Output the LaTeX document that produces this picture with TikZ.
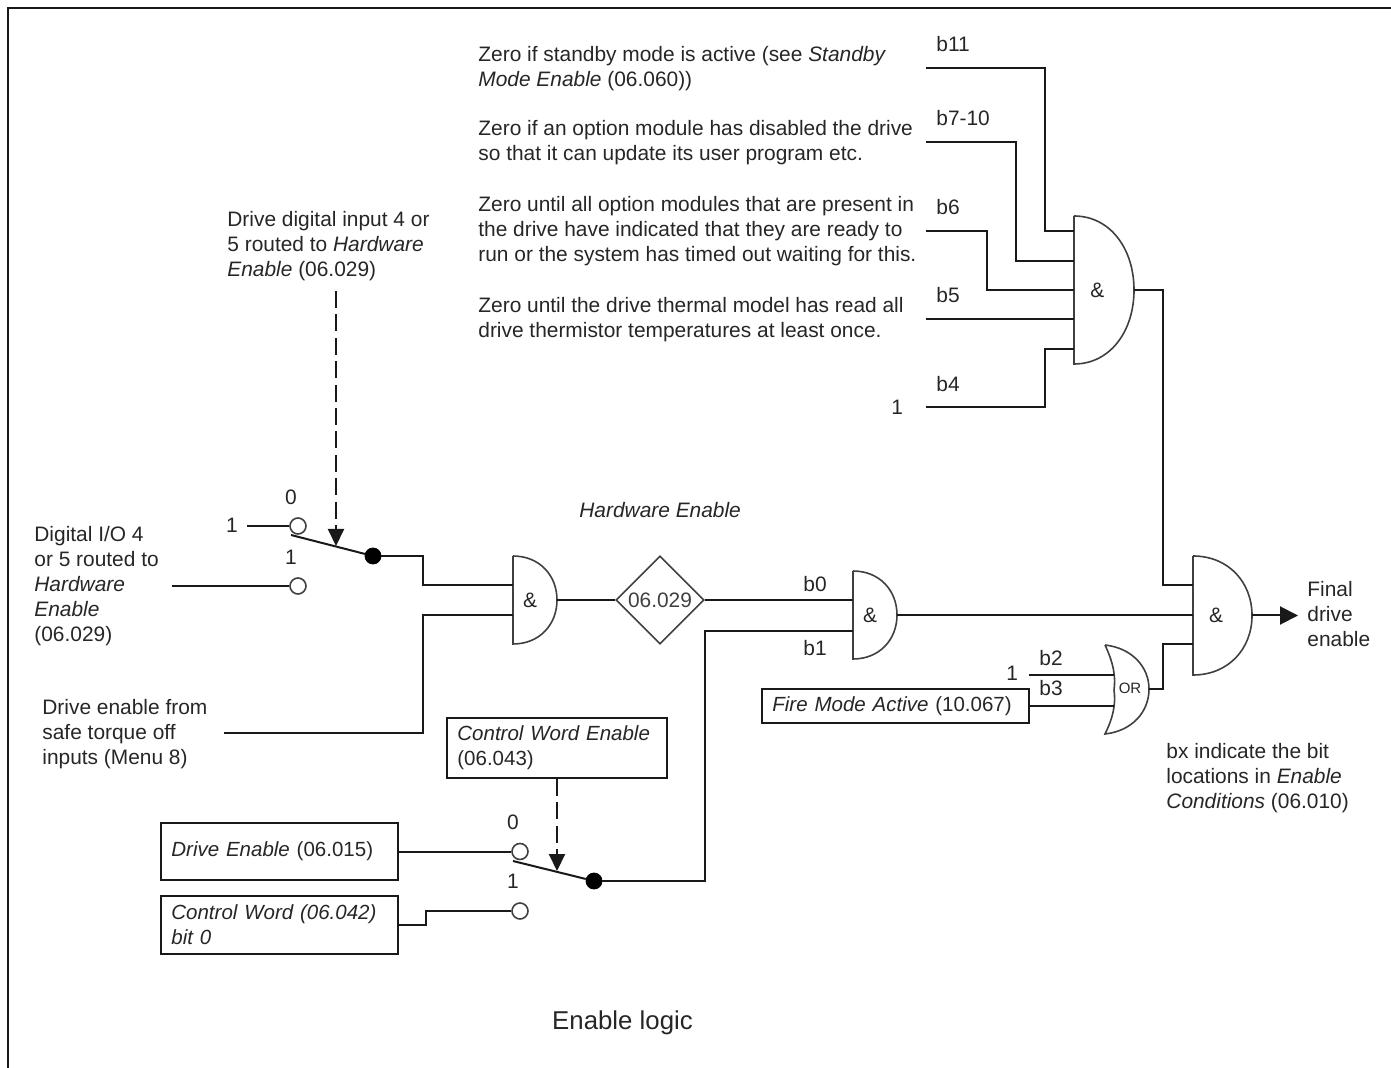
\documentclass[tikz,border=0pt]{standalone}
\usepackage{fontspec}
\setmainfont{Liberation Sans}
\usetikzlibrary{arrows.meta,shapes.geometric}
\definecolor{ink}{gray}{0.15}
\tikzset{
    every node/.style={font=\fontsize{10.45}{12.5}\selectfont, text=ink, inner sep=0pt},
    wire/.style={line width=1pt, black!90},
    outline/.style={line width=0.8pt, black!75},
    ctrl/.style={wire, dash pattern=on 8.5pt off 3.2pt, -{Triangle[length=8.5pt,width=8pt]}},
    txt/.style={anchor=west, align=left},
    infobox/.style={draw=black!90, line width=1pt, inner xsep=5.2pt, text width=#1, align=left, font=\fontsize{10.25}{12.5}\selectfont},
    pin/.style={circle, outline, draw, fill=white, minimum size=8pt},
    dot/.style={circle, draw=black, fill=black, minimum size=8pt}
}
% gate body: name, left, top, bottom, right, label
\newcommand{\andgate}[6]{
    \draw[outline] (#2,#3) -- (#2,#4) .. controls ({#2+0.6*(#5-#2)},#4) and (#5,{#3+0.78*(#4-#3)}) .. (#5,{(#3+#4)/2})
        .. controls (#5,{#3+0.22*(#4-#3)}) and ({#2+0.6*(#5-#2)},#3) .. (#2,#3);
    \coordinate (#1out) at (#5,{(#3+#4)/2});
    \node (#1) at ({#2+0.39*(#5-#2)},{(#3+#4)/2}) {#6};
}
\begin{document}
\begin{tikzpicture}[x=0.5pt, y=-0.5pt]  %enable logic
        \useasboundingbox (0,0) rectangle (1391,1068);
        \coordinate (cornerb) at (8,1068);
        \coordinate (cornera) at (8,8);
        \coordinate (cornerc) at (1391,8);
        \draw[wire] (cornerb) -- (cornera) -- (cornerc);

        % top notes
        \node[txt] (standby) at (478,69) {Zero if standby mode is active (see \textit{Standby}\\\textit{Mode Enable} (06.060))};
        \node[txt] (option) at (478,143) {Zero if an option module has disabled the drive\\so that it can update its user program etc.};
        \node[txt] (ready) at (478,231) {Zero until all option modules that are present in\\the drive have indicated that they are ready to\\run or the system has timed out waiting for this.};
        \node[txt] (thermal) at (478,320) {Zero until the drive thermal model has read all\\drive thermistor temperatures at least once.};

        \node[txt] (lb11) at (936,44) {b11};
        \node[txt] (lb7) at (936,118) {b7-10};
        \node[txt] (lb6) at (936,207) {b6};
        \node[txt] (lb5) at (936,295) {b5};
        \node[txt] (lb4) at (936,384) {b4};
        \node[txt] (lone) at (891,407) {1};

        % gates
        \andgate{gtop}{1074}{216}{364}{1134}{\&}
        \andgate{gfinal}{1193}{556}{675}{1252}{\&}
        \andgate{gmid}{853}{571}{659}{897}{\&}
        \andgate{gleft}{513}{556}{644}{557}{\&}
        \draw[outline] (1105,645) .. controls (1113,662) and (1116,676) .. (1114,690)
            .. controls (1116,704) and (1113,718) .. (1105,734)
            .. controls (1132,731) and (1149,712) .. (1149,689)
            .. controls (1149,667) and (1132,648) .. (1105,645);
        \coordinate (gorout) at (1149,689);
        \node[font=\fontsize{7.5}{9}\selectfont] (gor) at (1130,688) {OR};

        \coordinate (topa) at (1074,231);
        \coordinate (topb) at (1074,261);
        \coordinate (topc) at (1074,290);
        \coordinate (topd) at (1074,319);
        \coordinate (tope) at (1074,349);
        \coordinate (ina) at (926,68);
        \coordinate (inb) at (926,142);
        \coordinate (inc) at (926,231);
        \coordinate (ind) at (926,319);
        \coordinate (ine) at (926,407);
        \draw[wire] (ina) -- ++(119,0) |- (topa);
        \draw[wire] (inb) -- ++(90,0) |- (topb);
        \draw[wire] (inc) -- ++(61,0) |- (topc);
        \draw[wire] (ind) -- (topd);
        \draw[wire] (ine) -- ++(119,0) |- (tope);

        \coordinate (finala) at (1193,585);
        \coordinate (finalb) at (1193,615);
        \coordinate (finalc) at (1193,644);
        \coordinate (finalend) at (1298,615.5);
        \draw[wire] (gtopout) -- ++(29,0) |- (finala);
        \draw[wire] (gmidout) -- (finalb);
        \draw[wire] (gorout) -- ++(14,0) |- (finalc);
        \draw[wire, -{Triangle[length=9pt,width=9pt]}] (gfinalout) -- (finalend);
        \node[txt] (final) at (1307,614) {Final\\drive\\enable};
        \node[txt] (note) at (1166,778) {bx indicate the bit\\locations in \textit{Enable}\\\textit{Conditions} (06.010)};

        % or inputs
        \node[infobox=123.1pt, minimum height=17pt] (fire) at (895.5,706) {\textit{Fire Mode Active} (10.067)};
        \coordinate (ora) at (1114,675);
        \coordinate (orb) at (1114,706);
        \coordinate (orc) at (1029,675);
        \draw[wire] (orc) -- (ora);
        \draw[wire] (fire.east) -- (orb);
        \node[txt] (ltwo) at (1039,658) {b2};
        \node[txt] (lthree) at (1039,688) {b3};
        \node[txt] (lorone) at (1006,673) {1};

        % first switch
        \node[txt] (hwnote) at (227,246) {Drive digital input 4 or\\5 routed to \textit{Hardware}\\\textit{Enable} (06.029)};
        \node[txt] (dio) at (34,586) {Digital I/O 4\\or 5 routed to\\\textit{Hardware}\\\textit{Enable}\\(06.029)};
        \node[txt] (sto) at (42,734) {Drive enable from\\safe torque off\\inputs (Menu 8)};
        \node (swa0) at (291,497) {0};
        \node (swa1) at (291,557) {1};
        \node (swaone) at (232,525) {1};
        \node[pin] (swaa) at (298,526) {};
        \node[pin] (swab) at (298,586) {};
        \node[dot] (swac) at (373,556) {};
        \coordinate (swastart) at (247,526);
        \coordinate (swbstart) at (172,586);
        \coordinate (levera) at (291,535);
        \coordinate (hwtop) at (336,291);
        \coordinate (hwtip) at (336,546);
        \draw[wire] (swastart) -- (swaa);
        \draw[wire] (swbstart) -- (swab);
        \draw[wire] (levera) -- (swac);
        \draw[ctrl] (hwtop) -- (hwtip);

        \coordinate (lefta) at (513,585);
        \coordinate (leftb) at (513,615);
        \coordinate (stoend) at (224,733);
        \draw[wire] (swac) -- ++(50,0) |- (lefta);
        \draw[wire] (stoend) -- ++(199,0) |- (leftb);

        % parameter diamond
        \node[diamond, outline, draw, minimum width=44pt, minimum height=44pt, aspect=1] (par) at (660,600) {06.029};
        \node[txt] (hwlabel) at (579,510) {\textit{Hardware Enable}};
        \draw[wire] (gleftout) -- (par);
        \coordinate (mida) at (853,600);
        \coordinate (midb) at (853,631);
        \coordinate (midturn) at (705,631);
        \draw[wire] (par.east) -- (mida);
        \node[txt] (lzero) at (803,584) {b0};
        \node[txt] (lonemid) at (803,648) {b1};

        % second switch
        \node[infobox=99.6pt, minimum height=30pt] (cwe) at (557,748) {\textit{Control Word Enable}\\(06.043)};
        \node[infobox=108.1pt, minimum height=28.5pt] (den) at (279.5,851.5) {\textit{Drive Enable} (06.015)};
        \node[infobox=108.1pt, minimum height=29pt] (cw) at (279.5,925) {\textit{Control Word (06.042)}\\\textit{bit 0}};
        \node (swb0) at (513,822) {0};
        \node (swb1) at (513,881) {1};
        \node[pin] (swba) at (520,851.5) {};
        \node[pin] (swbb) at (520,911) {};
        \node[dot] (swbc) at (594,881) {};
        \coordinate (leverb) at (513,861);
        \coordinate (cwetip) at (557,871);
        \draw[wire] (den.east) -- (swba);
        \draw[wire] (cw.east) -- ++(27,0) |- (swbb);
        \draw[wire] (leverb) -- (swbc);
        \draw[ctrl] (cwe.south) -- (cwetip);
        \draw[wire] (swbc) -| (midturn) -- (midb);

        \node[font=\fontsize{12.9}{15}\selectfont] (title) at (622.5,1023) {Enable logic};
    \end{tikzpicture}
\end{document}
